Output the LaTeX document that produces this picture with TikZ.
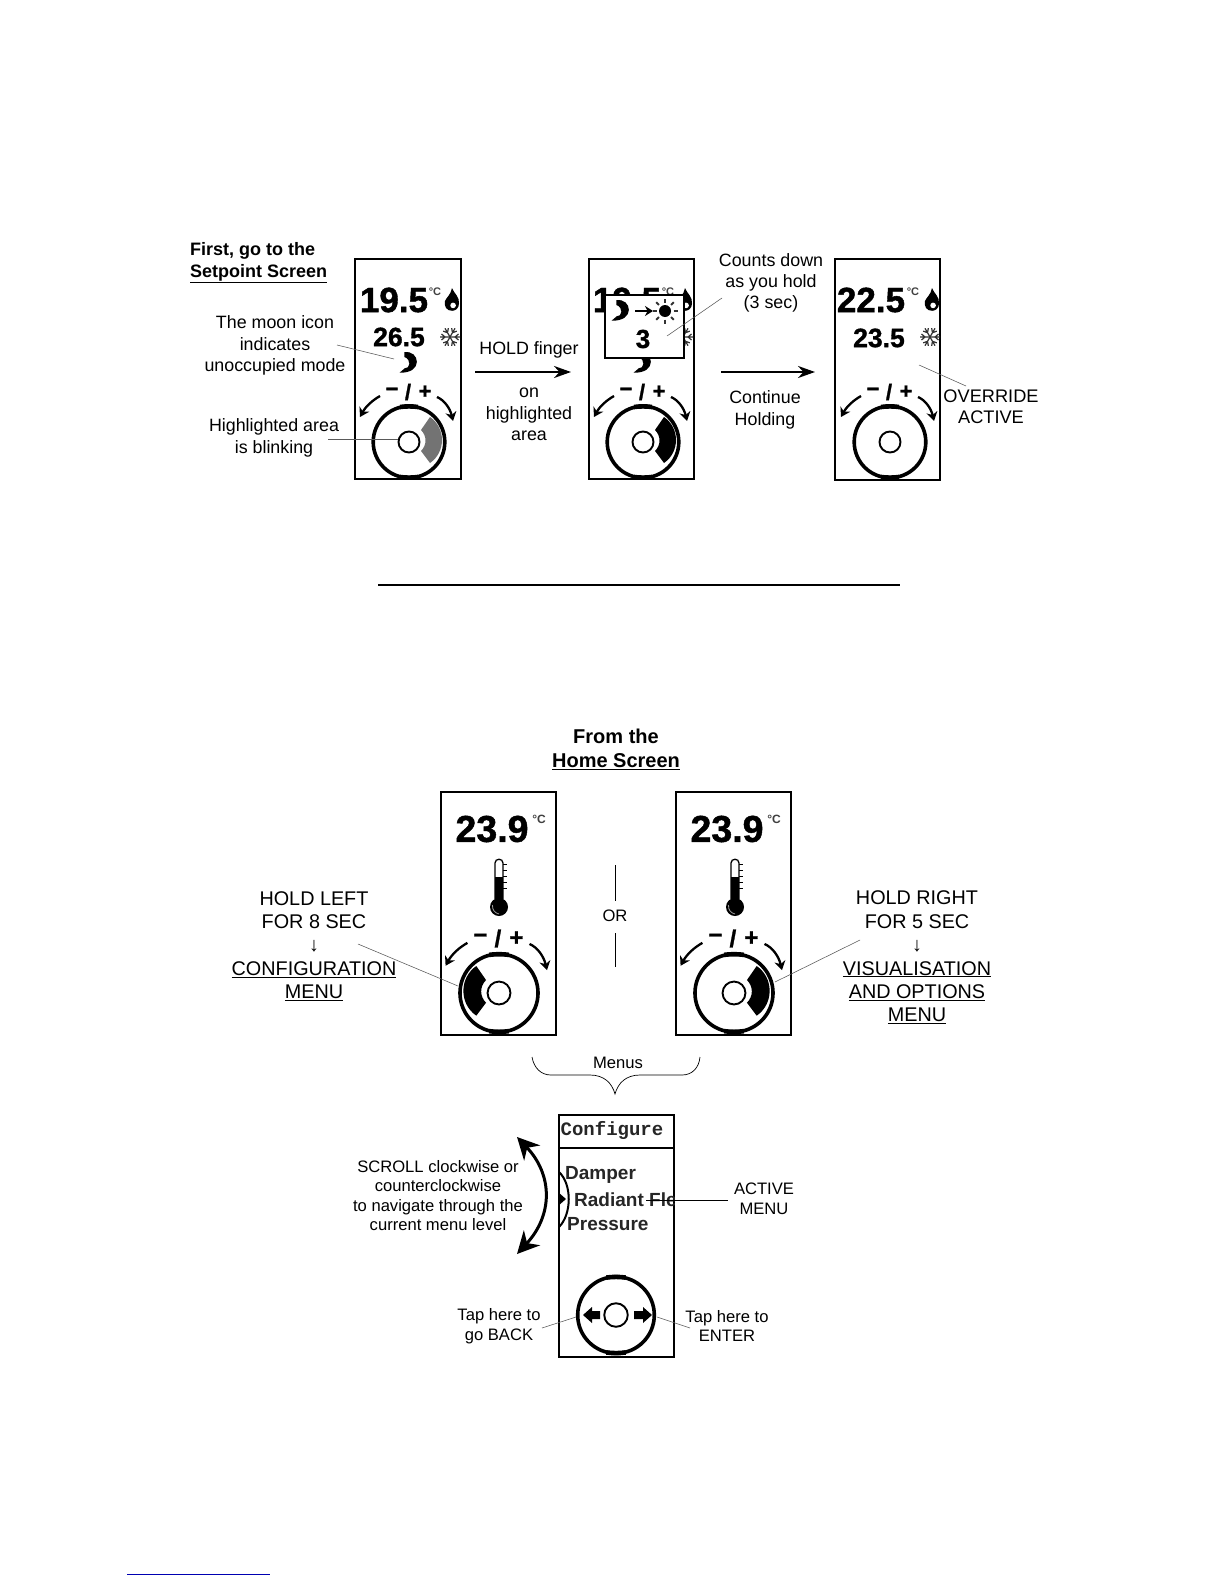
\documentclass[tikz,border=0pt]{standalone}
\usepackage{fontspec}
\setmainfont{Liberation Sans}
\newfontfamily\monob{Liberation Mono}[BoldFont={Liberation Mono Bold}]
\newfontfamily\dispf{Liberation Sans}[BoldFeatures={FakeBold=1.2}]
\usetikzlibrary{arrows.meta}
\tikzset{
  panel/.style={draw=black,line width=1.2pt,fill=white,inner sep=0pt,outer sep=0pt},
  panelb/.style={panel,line width=1.6pt},
  lab/.style={inner sep=0pt,align=center,font=\fontsize{17.85}{21.3}\selectfont},
  labbig/.style={inner sep=0pt,align=center,font=\fontsize{19.8}{23.4}\selectfont},
  labsmall/.style={inner sep=0pt,align=center,font=\fontsize{16.6}{19.6}\selectfont},
  leader/.style={draw=black!65,line width=0.55pt},
  bigarrow/.style={line width=2.4pt,-{Stealth[length=17pt,width=12pt]}},
  dialarrow/.style={line width=2.3pt,-{Stealth[length=9pt,width=11pt]}},
  ring/.style={draw=black,line width=3.6pt},
  hub/.style={draw=black,line width=1.9pt},
  dig/.style={inner sep=0pt,font=\dispf\fontsize{#1}{#1}\selectfont\bfseries},
  deg/.style={inner sep=0pt,text=black!75,font=\fontsize{11}{11}\selectfont\bfseries},
  menu/.style={inner sep=0pt,anchor=west,text=black!85,font=\fontsize{19}{19}\selectfont\bfseries},
}
\newcommand{\ringsym}[1]{%
    \draw[ring] (0,0) circle (35.8);
    \draw[line width=4.6pt] (-9,-35) .. controls (-3,-35.8) and (3,-35.8) .. (9,-35);
    \draw[line width=4.6pt] (-9,35) .. controls (-3,35.8) and (3,35.8) .. (9,35);
    \draw[hub] (0,0) circle (#1);}
% name, x, y, scale, glyph size
\newcommand{\dialsym}[5]{%
  \begin{scope}[shift={(#2,#3)},scale=#4]
    \ringsym{10.5}
    \node[dig=#5] (#1m) at (-17,-50) {−};
    \node[dig=#5] (#1s) at (-1,-50) {/};
    \node[dig=#5] (#1p) at (16,-50) {+};
    \draw[dialarrow] (-29,-46) .. controls (-36,-42) and (-43,-36) .. (-49,-25);
    \draw[dialarrow] (28,-45) .. controls (35,-42) and (41,-34) .. (44,-21);
  \end{scope}}
\newcommand{\seg}[5]{% x y scale xdir fill
  \begin{scope}[shift={(#1,#2)},xscale=#3*#4,yscale=#3]
    \fill[#5] (21,-25) .. controls (37,-14) and (37,10) .. (21,21)
      -- (12,9) .. controls (18,3) and (18,-6) .. (12,-12) -- cycle;
  \end{scope}}
\newcommand{\moonsym}[3]{%
  \begin{scope}[shift={(#1,#2)},scale=#3*1.2]
    \fill (-3,-9) .. controls (10,-11) and (13,9) .. (-7,8)
      .. controls (-5,6) and (-4,6) .. (-3,4.5)
      .. controls (2,5) and (3,-3) .. (-3,-5) -- cycle;
  \end{scope}}
\newcommand{\flamesym}[2]{%
  \begin{scope}[shift={(#1,#2)},scale=1.08]
    \fill (0,-11) .. controls (2,-6) and (7,-3) .. (6.5,3) .. controls (6.5,8) and (3,10) .. (0,10)
      .. controls (-5,10) and (-7.5,6) .. (-6.5,1) .. controls (-5.5,-2) and (-1,-5) .. (0,-11) -- cycle;
    \fill[white] (1,5) circle (2.6);
  \end{scope}}
\newcommand{\snowsym}[2]{%
  \begin{scope}[shift={(#1,#2)},draw=black!80,line width=1.2pt]
    \foreach \a in {0,60,120}{
      \draw[rotate=\a] (-10,0) -- (10,0) (5,0) -- (8.5,-3) (5,0) -- (8.5,3) (-5,0) -- (-8.5,-3) (-5,0) -- (-8.5,3);
    }
  \end{scope}}
\newcommand{\thermo}[1]{%
  \begin{scope}[shift={(#1,0)}]
    \draw[line width=1.3pt] (-4,899) -- (-4,863) .. controls (-4,858) and (4,858) .. (4,863) -- (4,899);
    \fill (-4,877) rectangle (4,900);
    \fill (0,907) circle (9);
    \draw[black!40,line width=0.8pt] (-6.5,905) .. controls (-7,910) and (-4,913) .. (0,914);
    \foreach \t in {864,870,876,882,888}{ \draw[line width=1pt] (4,\t) -- (8,\t); }
  \end{scope}}
\begin{document}
\begin{tikzpicture}[x=1pt,y=-1pt]
\useasboundingbox (0,0) rectangle (1224,1584);
\fill[white] (0,0) rectangle (1224,1584);

% ---- top row panels
\node[panel,minimum width=106pt,minimum height=220pt] (p1) at (408,369) {};
\node[panel,minimum width=105pt,minimum height=220pt] (p2) at (641.5,369) {};
\node[panel,minimum width=105pt,minimum height=221pt] (p3) at (887.5,369.5) {};

% panel 1
\node[dig=35] (p1t) at (394,300) {19.5};
\node[deg] (p1d) at (435,292) {°C};
\flamesym{452}{300}
\node[dig=26.5] (p1u) at (399,337) {26.5};
\snowsym{450}{337}
\moonsym{408}{363}{1}
\seg{409}{442}{1}{1}{black!55}
\dialsym{d1}{409}{442}{1}{22}

% panel 2
\node[dig=35] (p2t) at (627,300) {19.5};
\node[deg] (p2d) at (668,292) {°C};
\flamesym{685}{300}
\snowsym{683}{337}
\moonsym{642}{363}{1}
\seg{643}{442}{1}{1}{black}
\dialsym{d2}{643}{442}{1}{22}
\node[draw=black,line width=1.5pt,fill=white,minimum width=79pt,minimum height=63pt,inner sep=0pt] (pop) at (644.5,326.5) {};
\moonsym{620}{311}{1}
\coordinate (paS) at (635,311);
\coordinate (paE) at (653,311);
\draw[line width=2.2pt,-{Stealth[length=8pt,width=10pt]}] (paS) -- (paE);
\fill (665,311) circle (6);
\foreach \a in {0,45,...,315}{ \draw[line width=1.8pt,black!80] (665,311) ++(\a:8.5) -- ++(\a:4); }
\node[dig=26] (pop3) at (643,339) {3};

% panel 3
\node[dig=35] (p3t) at (871,300) {22.5};
\node[deg] (p3d) at (913,292) {°C};
\flamesym{932}{300}
\node[dig=26.5] (p3u) at (879,338) {23.5};
\snowsym{930}{337}
\dialsym{d3}{890}{442}{1}{22}

% top texts
\node[inner sep=0pt,anchor=west,align=left,font=\fontsize{18}{21.5}\selectfont\bfseries] (t1) at (190,263) {First, go to the\\\underline{Setpoint Screen}};
\node[lab] (t2) at (275,345.5) {The moon icon\\indicates\\unoccupied mode};
\node[lab] (t3) at (274,438) {Highlighted area\\is blinking};
\node[lab] (t4) at (529,350) {HOLD finger};
\node[lab] (t5) at (529,414.5) {on\\highlighted\\area};
\node[lab] (t6) at (771,283) {Counts down\\as you hold\\(3 sec)};
\node[lab] (t7) at (765,410) {Continue\\Holding};
\node[labsmall,font=\fontsize{18.2}{20.5}\selectfont] (t8) at (991,406.5) {OVERRIDE\\ACTIVE};

% top connectors
\coordinate (a1s) at (475,372); \coordinate (a1e) at (571,372);
\draw[bigarrow] (a1s) -- (a1e);
\coordinate (a2s) at (721,372); \coordinate (a2e) at (815,372);
\draw[bigarrow] (a2s) -- (a2e);
\coordinate (l1s) at (337,345); \coordinate (l1e) at (394,359);
\draw[leader] (l1s) -- (l1e);
\coordinate (l2s) at (328,439); \coordinate (l2e) at (398,439);
\draw[leader] (l2s) -- (l2e);
\coordinate (l3s) at (722,298); \coordinate (l3e) at (667,336);
\draw[leader] (l3s) -- (l3e);
\coordinate (l4s) at (919,365); \coordinate (l4e) at (966,386);
\draw[leader] (l4s) -- (l4e);

% separator
\coordinate (sepL) at (378,585); \coordinate (sepR) at (900,585);
\draw[line width=1.5pt] (sepL) -- (sepR);

% ---- middle
\node[inner sep=0pt,align=center,font=\fontsize{20}{24}\selectfont\bfseries] (t9) at (616,749) {From the\\\underline{Home Screen}};
\node[panelb,minimum width=115pt,minimum height=243pt] (p4) at (498.5,913.5) {};
\node[panelb,minimum width=115pt,minimum height=243pt] (p5) at (733.5,913.5) {};

\node[dig=37.5] (p4t) at (492,829) {23.9};
\node[deg,font=\fontsize{12}{12}\selectfont\bfseries] (p4d) at (539,819) {°C};
\thermo{499}
\seg{499}{993}{1.08}{-1}{black}
\dialsym{d4}{499}{993}{1.09}{24}

\node[dig=37.5] (p5t) at (727,829) {23.9};
\node[deg,font=\fontsize{12}{12}\selectfont\bfseries] (p5d) at (774,819) {°C};
\thermo{735}
\seg{734}{993}{1.08}{1}{black}
\dialsym{d5}{734}{993}{1.09}{24}

\node[labsmall] (or) at (615,916) {OR};
\coordinate (or1) at (615,865); \coordinate (or2) at (615,901);
\coordinate (or3) at (615,933); \coordinate (or4) at (615,967);
\draw[line width=0.7pt] (or1) -- (or2) (or3) -- (or4);

\node[labbig] (t10) at (314,946) {HOLD LEFT\\FOR 8 SEC\\↓\\\underline{CONFIGURATION}\\\underline{MENU}};
\node[labbig] (t11) at (917,957.5) {HOLD RIGHT\\FOR 5 SEC\\↓\\\underline{VISUALISATION}\\\underline{AND OPTIONS}\\\underline{MENU}};
\coordinate (l5s) at (358,944); \coordinate (l5e) at (458,986);
\draw[leader] (l5s) -- (l5e);
\coordinate (l6s) at (860,940); \coordinate (l6e) at (775,982);
\draw[leader] (l6s) -- (l6e);

% brace
\node[labsmall] (menus) at (618,1063) {Menus};
\coordinate (bL) at (532,1057); \coordinate (bR) at (700,1057); \coordinate (bT) at (615,1094);
\draw[line width=0.7pt] (bL) .. controls (534,1068) and (541,1075) .. (551,1075) -- (590,1075)
   .. controls (604,1075) and (612,1083) .. (bT)
   .. controls (618,1083) and (626,1075) .. (640,1075) -- (682,1075)
   .. controls (692,1075) and (699,1068) .. (bR);

% ---- bottom panel
\node[panelb,minimum width=115pt,minimum height=242pt] (p6) at (616.5,1236) {};
\coordinate (hdL) at (559,1148); \coordinate (hdR) at (674,1148);
\draw[line width=2.2pt] (hdL) -- (hdR);
\node[inner sep=0pt,text=black!85,font=\monob\fontsize{19}{19}\selectfont\bfseries] (cfg) at (612,1130) {Configure};
\begin{scope}
  \clip (559,1115) rectangle (674,1357);
  \node[menu] (m1) at (565,1175) {Damper};
  \node[menu] (m2) at (574,1200) {Radiant Fle};
  \node[menu] (m3) at (567,1224) {Pressure};
  \draw[line width=2pt] (559,1172) .. controls (572,1184) and (572,1214) .. (559,1227);
\end{scope}
\fill (558,1192) -- (566,1199) -- (558,1206) -- cycle;
\begin{scope}[shift={(616,1315)},scale=1.07]
  \ringsym{11}
\end{scope}
\fill (583,1315) -- (592,1307) -- (592,1311) -- (600,1311) -- (600,1319) -- (592,1319) -- (592,1323) -- cycle;
\fill (652,1315) -- (643,1307) -- (643,1311) -- (634,1311) -- (634,1319) -- (643,1319) -- (643,1323) -- cycle;

\coordinate (scT) at (517,1137); \coordinate (scB) at (517,1254);
\draw[line width=3pt,{Stealth[length=22pt,width=22pt]}-{Stealth[length=22pt,width=22pt]}] (scT) .. controls (553,1175) and (553,1215) .. (scB);
\node[labsmall] (t12) at (438,1195.5) {SCROLL clockwise or\\counterclockwise\\to navigate through the\\current menu level};
\node[labsmall] (t13) at (764,1198.5) {ACTIVE\\MENU};
\node[labsmall] (t14) at (499,1326) {Tap here to\\go BACK};
\node[labsmall] (t15) at (727,1326) {Tap here to\\ENTER};
\coordinate (l7s) at (646,1200); \coordinate (l7e) at (728,1200);
\draw[line width=0.8pt] (l7s) -- (l7e);
\coordinate (l8s) at (542,1328); \coordinate (l8e) at (576,1317);
\draw[leader] (l8s) -- (l8e);
\coordinate (l9s) at (657,1317); \coordinate (l9e) at (690,1328);
\draw[leader] (l9s) -- (l9e);

% footnote rule
\coordinate (fnL) at (127,1574); \coordinate (fnR) at (270,1574);
\draw[blue!70!black,line width=0.7pt] (fnL) -- (fnR);
\end{tikzpicture}
\end{document}
